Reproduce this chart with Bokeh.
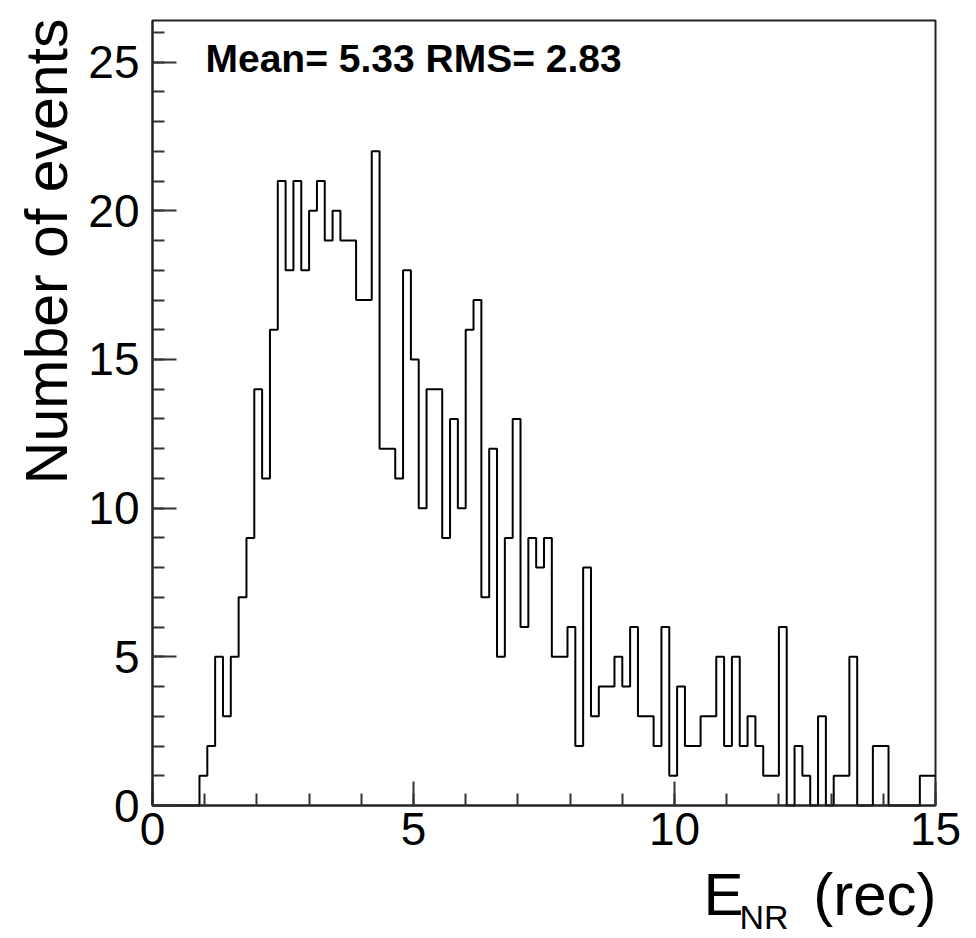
import numpy as np
from bokeh.plotting import figure
from bokeh.models import Label, SingleIntervalTicker, Range1d, LinearAxis
from bokeh.embed import file_html
from bokeh.resources import INLINE

# ---- data ----
x_min = 0.0
x_max = 15.0
n_bins = 100
counts = [
    0, 0, 0, 0, 0, 0,
    1, 2, 5, 3, 5, 7, 9, 14, 11, 16, 21, 18, 21, 18, 20, 21, 19, 20, 19, 19,
    17, 17, 22, 12, 12, 11,
    18, 15, 10, 14, 14, 9, 13, 10, 16, 17, 7, 12, 5, 9, 13, 6, 9, 8, 9, 5,
    5, 6, 2, 8, 3, 4, 4, 5, 4, 6, 3, 3, 2,
    6, 1, 4, 2, 2, 3, 3, 5, 2, 5, 2, 3, 2, 1, 1, 6, 0, 2, 1, 0, 3, 0, 1, 1,
    5, 0, 0, 2, 2, 0, 0, 0, 0, 1, 1,
]
y_max = 26.4
stats_text = "Mean= 5.33 RMS= 2.83"
y_title = "Number of events"
x_title_main = "E"
x_title_sub = "NR"
x_title_tail = "(rec)"

edges = np.linspace(x_min, x_max, n_bins + 1)
step_y = list(counts) + [counts[-1]]

FONT = "Liberation Sans"
W, H = 976, 938
# frame placement in pixels (left, right, top, bottom)
FL, FR, FT, FB = 152, 935, 20, 805
ppx = (FR - FL) / (x_max - x_min)
ppy = (FB - FT) / y_max
BASE_SHIFT = 0.36  # empirical baseline correction (fraction of font size)

p = figure(width=W, height=H, output_backend="svg", toolbar_location=None,
           x_axis_location=None, y_axis_location=None, min_border=0,
           x_range=Range1d(x_min - FL / ppx, x_max + (W - FR) / ppx),
           y_range=Range1d(-(H - FB) / ppy, y_max + FT / ppy))
p.background_fill_color = "white"
p.border_fill_color = "white"
p.outline_line_color = None

# histogram frame
p.quad(left=[x_min], right=[x_max], bottom=[0], top=[y_max],
       fill_color=None, line_color="#222222", line_width=2)

p.step(x=edges, y=step_y, mode="after", line_color="black", line_width=2)

xaxis = LinearAxis(fixed_location=0, bounds=(x_min, x_max))
yaxis = LinearAxis(fixed_location=x_min, bounds=(0, y_max))
p.add_layout(xaxis, "below")
p.add_layout(yaxis, "left")

for g in p.grid:
    g.visible = False

for ax, standoff in ((xaxis, 7), (yaxis, 13)):
    ax.ticker = SingleIntervalTicker(interval=5, num_minor_ticks=5)
    ax.major_tick_in = 24
    ax.major_tick_out = 0
    ax.minor_tick_in = 12
    ax.minor_tick_out = 0
    ax.axis_line_color = "#222222"
    ax.axis_line_width = 2
    ax.major_tick_line_color = "#333333"
    ax.minor_tick_line_color = "#333333"
    ax.major_tick_line_width = 2
    ax.minor_tick_line_width = 2
    ax.major_label_text_font = FONT
    ax.major_label_text_font_size = "46px"
    ax.major_label_text_color = "black"
    ax.major_label_standoff = standoff

# helpers to convert reference pixel positions into data coordinates
def dx(px):
    return x_min + (px - FL) / ppx

def dy(py):
    return (FB - py) / ppy

def hlabel(px, base_py, text, size, style="normal", align="left"):
    return Label(x=dx(px), y=dy(base_py - BASE_SHIFT * size), text=text,
                 text_font=FONT, text_font_size=f"{size}px", text_font_style=style,
                 text_color="black", text_baseline="alphabetic", text_align=align)

p.add_layout(hlabel(205, 71.7, stats_text, 39, style="bold"))

ysize = 59
p.add_layout(Label(x=dx(68 - BASE_SHIFT * ysize), y=dy(18), text=y_title, angle=np.pi / 2,
                   text_font=FONT, text_font_size=f"{ysize}px", text_color="black",
                   text_baseline="alphabetic", text_align="right"))

p.add_layout(hlabel(703, 916, x_title_main, 60))
p.add_layout(hlabel(739, 929, x_title_sub, 34))
p.add_layout(hlabel(936, 916, x_title_tail, 60, align="right"))

open("out.html", "w").write(file_html(p, INLINE))
